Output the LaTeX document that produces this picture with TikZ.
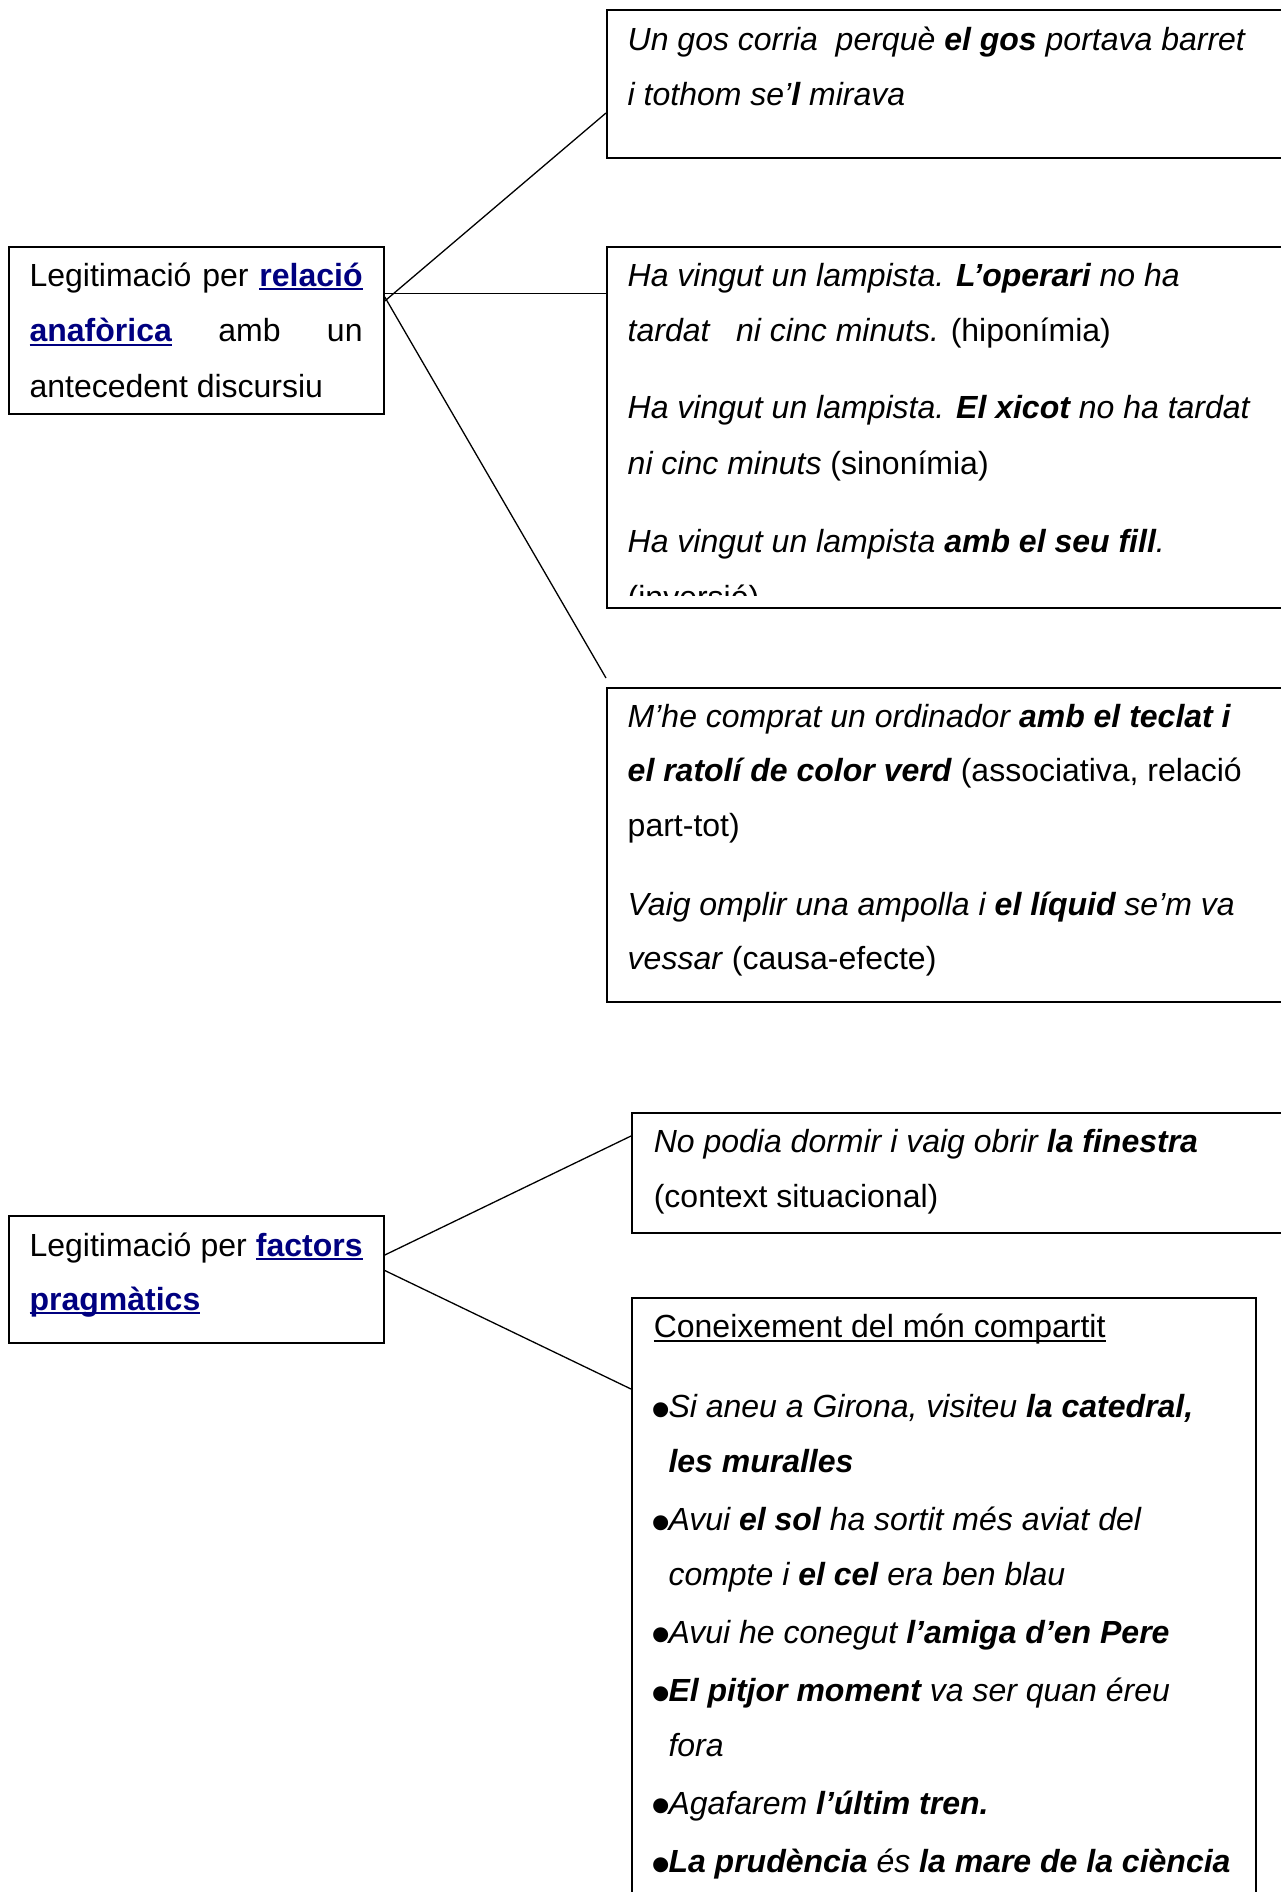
\documentclass[tikz,border=0pt]{standalone}
\usepackage{fontspec}
\usepackage{graphicx}
\setmainfont{Liberation Sans}
\usetikzlibrary{calc}
\definecolor{linkblue}{RGB}{0,0,128}
\newcommand\ulx[1]{\setbox0\hbox{#1}\rlap{\rule[-4pt]{\wd0}{1.8pt}}\box0}
\newcommand\lnk[1]{{\color{linkblue}\bfseries\ulx{#1}}}
\newcommand\js{\hskip 0.278em plus 1fill\relax}
\newcommand\bul{\makebox[14.7pt][l]{\hspace*{-2.3pt}\raisebox{-10.8pt}{\scalebox{1.72}{•}}}}
\tikzset{
  boxst/.style={draw=black, line width=1.8pt, rectangle, inner sep=0pt, anchor=north west},
  txt/.style={anchor=base west, inner sep=0pt, font=\fontsize{32}{38}\selectfont},
  conn/.style={draw=black, line width=1.3pt},
}
\begin{document}
\begin{tikzpicture}[x=1pt,y=-1pt]
\clip (0,0) rectangle (1281,1892);
\fill[white] (0,0) rectangle (1281,1892);
% boxes
\node[boxst, minimum width=375pt, minimum height=167pt] (A) at (8,246) {};
\node[boxst, minimum width=700pt, minimum height=148pt] (B1) at (606,9) {};
\node[boxst, minimum width=700pt, minimum height=361pt] (B2) at (606,246) {};
\node[boxst, minimum width=700pt, minimum height=314pt] (B3) at (606,687) {};
\node[boxst, minimum width=375pt, minimum height=127pt] (B) at (8,1215) {};
\node[boxst, minimum width=700pt, minimum height=120pt] (B4) at (631,1112) {};
\node[boxst, minimum width=624pt, minimum height=700pt] (B5) at (631,1297) {};
% connectors
\draw[conn] ($(A.north east)+(0,55)$) -- ($(B1.north west)+(0,104)$);
\draw[conn] ($(A.north east)+(0,47.5)$) -- ($(B2.north west)+(0,47.5)$);
\draw[conn] ($(A.north east)+(0,51)$) -- ($(B3.north west)+(0,-9)$);
\draw[conn] ($(B.north east)+(0,40)$) -- ($(B4.north west)+(0,24)$);
\draw[conn] ($(B.north east)+(0,55.5)$) -- ($(B5.north west)+(0,92)$);
% box A
\node[txt] (a1) at (29.4,286) {\hbox to 333pt{Legitimació\js per\js\lnk{relació}}};
\node[txt] (a2) at (29.4,341.5) {\hbox to 333pt{\lnk{anafòrica}\js amb\js un}};
\node[txt] (a3) at (29.4,397) {antecedent discursiu};
% box 1
\node[txt] (b11) at (627.5,51) {\textit{Un gos corria\ \ perquè \textbf{el gos} portava barret}};
\node[txt] (b12) at (627.5,105.5) {\textit{i tothom se’\textbf{l} mirava}};
% box 2
\node[txt] (b21) at (627.5,286) {\textit{Ha vingut un lampista. \textbf{L’operari} no ha}};
\node[txt] (b22) at (627.5,341) {\textit{tardat\ \ \ ni cinc minuts.} (hiponímia)};
\node[txt] (b23) at (627.5,418.5) {\textit{Ha vingut un lampista. \textbf{El xicot} no ha tardat}};
\node[txt] (b24) at (627.5,474) {\textit{ni cinc minuts} (sinonímia)};
\node[txt] (b25) at (627.5,552) {\textit{Ha vingut un lampista \textbf{amb el seu fill}.}};
\begin{scope}
\clip (606,246) rectangle (1281,595);
\node[txt] (b26) at (627.5,608) {(inversió)};
\end{scope}
% box 3
\node[txt] (b31) at (627.5,727) {\textit{M’he comprat un ordinador \textbf{amb el teclat i}}};
\node[txt] (b32) at (627.5,781.5) {\textit{\textbf{el ratolí de color verd}} (associativa, relació};
\node[txt] (b33) at (627.5,836) {part-tot)};
\node[txt] (b34) at (627.5,915) {\textit{Vaig omplir una ampolla i \textbf{el líquid} se’m va}};
\node[txt] (b35) at (627.5,969) {\textit{vessar} (causa-efecte)};
% box B
\node[txt] (bb1) at (29.4,1256) {\hbox to 333pt{Legitimació\js per\js\lnk{factors}}};
\node[txt] (bb2) at (29.4,1310) {\lnk{pragmàtics}};
% box 4
\node[txt] (b41) at (653.6,1152.5) {\textit{No podia dormir i vaig obrir \textbf{la finestra}}};
\node[txt] (b42) at (653.6,1207) {(context situacional)};
% box 5
\node[txt] (b50) at (653.6,1337.5) {\ulx{Coneixement del món compartit}};
\node[txt] (b51) at (653.6,1417.5) {\bul\textit{Si aneu a Girona, visiteu \textbf{la catedral,}}};
\node[txt] (b52) at (668.3,1472.5) {\textit{\textbf{les muralles}}};
\node[txt] (b53) at (653.6,1530.5) {\bul\textit{Avui \textbf{el sol} ha sortit més aviat del}};
\node[txt] (b54) at (668.3,1585) {\textit{compte i \textbf{el cel} era ben blau}};
\node[txt] (b55) at (653.6,1643) {\bul\textit{Avui he conegut \textbf{l’amiga d’en Pere}}};
\node[txt] (b56) at (653.6,1701.5) {\bul\textit{\textbf{El pitjor moment} va ser quan éreu}};
\node[txt] (b57) at (668.3,1756) {\textit{fora}};
\node[txt] (b58) at (653.6,1814) {\bul\textit{Agafarem \textbf{l’últim tren.}}};
\node[txt] (b59) at (653.6,1872.5) {\bul\textit{\textbf{La prudència} és \textbf{la mare de la ciència}}};
\end{tikzpicture}
\end{document}
